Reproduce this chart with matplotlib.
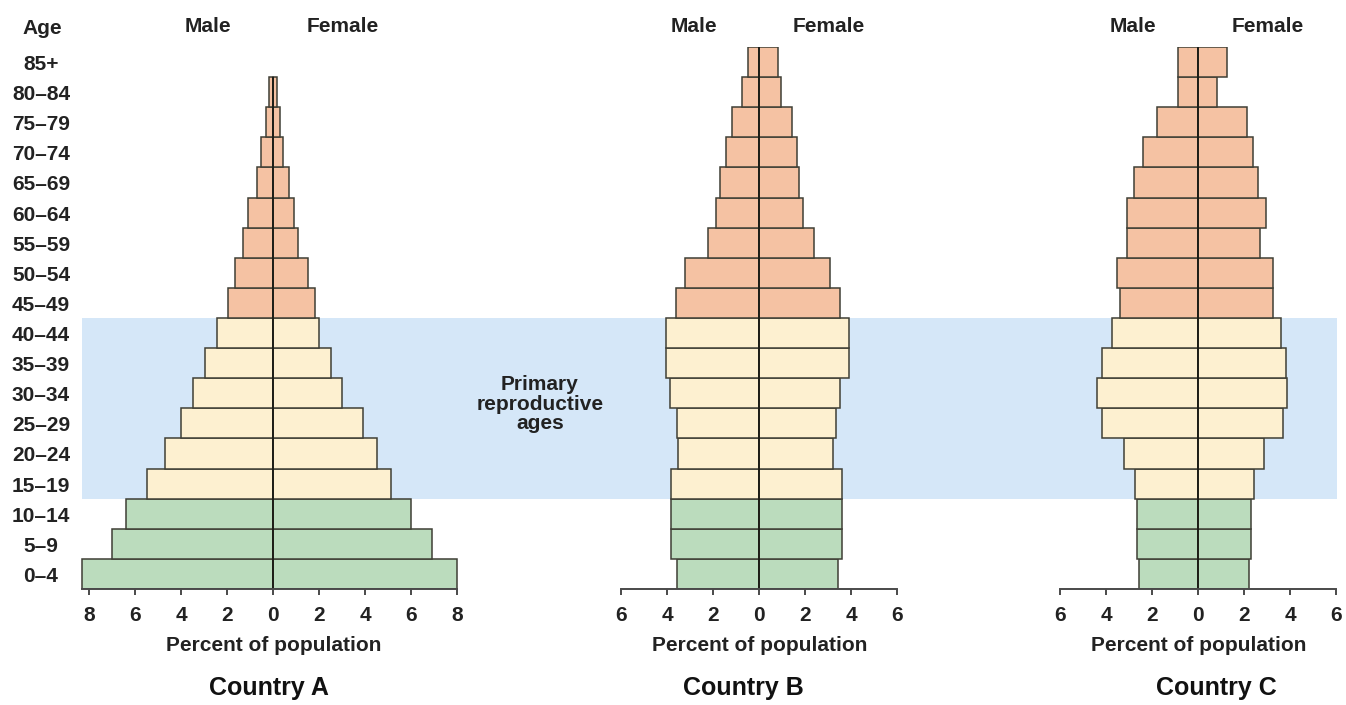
import numpy as np
import matplotlib
matplotlib.use('Agg')
import matplotlib.pyplot as plt
from matplotlib.patches import Rectangle
from matplotlib.transforms import blended_transform_factory

# ---------------- data ----------------
age_groups = ['0–4', '5–9', '10–14', '15–19', '20–24', '25–29', '30–34', '35–39',
              '40–44', '45–49', '50–54', '55–59', '60–64', '65–69', '70–74',
              '75–79', '80–84', '85+']

a_male = [8.3, 7.0, 6.4, 5.5, 4.7, 4.0, 3.5, 2.95, 2.45, 1.95, 1.65, 1.33, 1.1, 0.69, 0.55, 0.33, 0.17, 0]
a_female = [8.0, 6.9, 6.0, 5.1, 4.5, 3.9, 3.0, 2.5, 2.0, 1.8, 1.5, 1.09, 0.9, 0.68, 0.43, 0.3, 0.15, 0]
b_male = [3.6, 3.83, 3.83, 3.83, 3.55, 3.6, 3.87, 4.06, 4.06, 3.64, 3.22, 2.25, 1.89, 1.73, 1.46, 1.17, 0.76, 0.5]
b_female = [3.44, 3.6, 3.6, 3.6, 3.2, 3.35, 3.5, 3.9, 3.9, 3.5, 3.06, 2.37, 1.9, 1.73, 1.62, 1.4, 0.94, 0.8]
c_male = [2.58, 2.65, 2.65, 2.75, 3.23, 4.17, 4.39, 4.17, 3.77, 3.4, 3.55, 3.09, 3.11, 2.78, 2.39, 1.78, 0.9, 0.9]
c_female = [2.22, 2.28, 2.28, 2.43, 2.86, 3.7, 3.87, 3.81, 3.58, 3.23, 3.26, 2.68, 2.94, 2.61, 2.36, 2.1, 0.8, 1.26]

countries = ['Country A', 'Country B', 'Country C']
tick_vals_a = [-8, -6, -4, -2, 0, 2, 4, 6, 8]
tick_vals_bc = [-6, -4, -2, 0, 2, 4, 6]

# ---------------- style ----------------
plt.rcParams['font.family'] = ['Liberation Sans', 'DejaVu Sans']
plt.rcParams['font.weight'] = 'bold'
TXT = '#222222'
GREEN = '#bbdcbd'
CREAM = '#fdf0d0'
SALMON = '#f5c2a3'
EDGE = '#3f3f35'
BAND = '#d5e7f8'

W, H = 1346, 705
fig = plt.figure(figsize=(W / 100, H / 100), dpi=100)

y_bot_px, y_top_px = 589, 47
ax_bottom = (H - y_bot_px) / H
ax_height = (y_bot_px - y_top_px) / H


def px_axes(left_px, right_px):
    return [left_px / W, ax_bottom, (right_px - left_px) / W, ax_height]


axA = fig.add_axes(px_axes(79.8, 466.8))
axB = fig.add_axes(px_axes(616.7, 901.9))
axC = fig.add_axes(px_axes(1055.7, 1340.9))
axes = [axA, axB, axC]
xlims = [(-8.41, 8.41), (-6.2, 6.2), (-6.2, 6.2)]
ticks = [tick_vals_a, tick_vals_bc, tick_vals_bc]
bounds = [(-8.32, 8.0), (-6, 6), (-6, 6)]
males = [a_male, b_male, c_male]
females = [a_female, b_female, c_female]

y = np.arange(len(age_groups))
colors = np.array([GREEN if i < 3 else (CREAM if i < 9 else SALMON) for i in range(len(age_groups))])

for ax, xl, tk, bd, m, f in zip(axes, xlims, ticks, bounds, males, females):
    ax.set_zorder(2)
    ax.set_facecolor('none')
    ax.set_xlim(*xl)
    ax.set_ylim(-0.5, len(age_groups) - 0.5)
    m = np.array(m)
    f = np.array(f)
    keep = (m > 0) | (f > 0)
    ax.barh(y[keep], -m[keep], height=1.0, color=colors[keep],
            edgecolor=EDGE, linewidth=1.1, zorder=3)
    ax.barh(y[keep], f[keep], height=1.0, color=colors[keep],
            edgecolor=EDGE, linewidth=1.1, zorder=3)
    top = y[keep].max() + 0.5
    ax.vlines(0, -0.5, top, color='#1a1a14', linewidth=1.3, zorder=4)
    for s in ['top', 'right', 'left']:
        ax.spines[s].set_visible(False)
    ax.spines['bottom'].set_color('#4a4a4a')
    ax.spines['bottom'].set_linewidth(1.4)
    ax.spines['bottom'].set_bounds(*bd)
    ax.spines['bottom'].set_zorder(5)
    ax.set_yticks([])
    ax.set_xticks(tk)
    ax.set_xticklabels([str(abs(v)) for v in tk], fontsize=15, fontweight='bold', color=TXT)
    ax.tick_params(axis='x', direction='out', length=4.5, width=1.4, color='#4a4a4a', pad=8)
    ax.set_xlabel('Percent of population', fontsize=15, fontweight='bold', color=TXT, labelpad=8)
    tr = blended_transform_factory(ax.transData, fig.transFigure)
    ax.text(-2.85, 1 - 27 / H, 'Male', transform=tr, ha='center', va='center',
            fontsize=15, fontweight='bold', color=TXT)
    ax.text(3.0, 1 - 27 / H, 'Female', transform=tr, ha='center', va='center',
            fontsize=15, fontweight='bold', color=TXT)

# blue band for primary reproductive ages (rows 15-19 .. 40-44)
inv = fig.transFigure.inverted()
x0, y0 = inv.transform(axA.transData.transform((-8.32, 2.5)))
x1, y1 = inv.transform(axC.transData.transform((6.03, 8.5)))
fig.patches.append(Rectangle((x0, y0), x1 - x0, y1 - y0, transform=fig.transFigure,
                             facecolor=BAND, edgecolor='none', zorder=0))

# age labels
tr_age = blended_transform_factory(fig.transFigure, axA.transData)
for i, lab in enumerate(age_groups):
    axA.text(41 / W, i - 0.08, lab, transform=tr_age, ha='center', va='center',
             fontsize=15, fontweight='bold', color=TXT, clip_on=False)
fig.text(42 / W, 1 - 29 / H, 'Age', ha='center', va='center', fontsize=15,
         fontweight='bold', color=TXT)

fig.text(540 / W, 1 - 404 / H, 'Primary\nreproductive\nages', ha='center', va='center',
         fontsize=15, fontweight='bold', color=TXT, linespacing=1.05)

for name, cx in zip(countries, [268.5, 743.5, 1216.5]):
    fig.text(cx / W, 1 - 688 / H, name, ha='center', va='center', fontsize=18,
             fontweight='bold', color='#111111')

fig.savefig('out.png', dpi=100, facecolor='white')
